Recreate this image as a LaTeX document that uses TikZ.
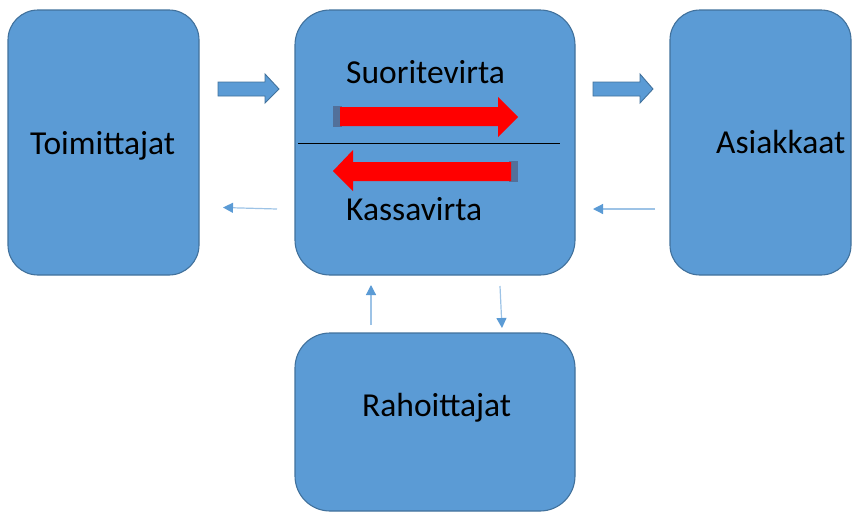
\documentclass[tikz,border=0pt]{standalone}
\usepackage{fontspec}
\setmainfont{Carlito}
\usetikzlibrary{arrows.meta}
\definecolor{boxblue}{HTML}{5B9BD5}
\definecolor{boxedge}{HTML}{41719C}
\definecolor{thinblue}{HTML}{9DC3E6}
\definecolor{capgray}{HTML}{52709A}
\tikzset{
  bigbox/.style={draw=boxedge, fill=boxblue, line width=1.1pt, rounded corners=30pt,
                 inner sep=0pt, outer sep=0pt, anchor=north west},
  lbl/.style={inner sep=0pt, anchor=base west, font=\fontsize{33.5}{40}\selectfont, text=black},
  blockarrow/.style={draw=boxedge, fill=boxblue, line width=0.9pt, line join=miter},
  redarrow/.style={fill=red, draw=none},
  thinarrow/.style={draw=thinblue, line width=1.2pt,
     -{Triangle[length=10pt,width=10pt,fill=boxblue,color=boxblue]}}
}
\begin{document}
\begin{tikzpicture}[x=1pt,y=-1pt]
\useasboundingbox (0,0) rectangle (852,512);
% boxes
\node[bigbox, minimum width=191pt, minimum height=265pt] (toim) at (8,10) {};
\node[bigbox, minimum width=280pt, minimum height=265pt, rounded corners=35pt] (center) at (295,10) {};
\node[bigbox, minimum width=181pt, minimum height=265pt] (asia) at (670,10) {};
\node[bigbox, minimum width=280pt, minimum height=178pt, rounded corners=35pt] (raho) at (295,333) {};
% labels
\node[lbl] (ttoim) at (30,154) {Toimittajat};
\node[lbl] (tasia) at (716,153) {Asiakkaat};
\node[lbl] (tsuor) at (346,83) {Suoritevirta};
\node[lbl] (tkass) at (346,220) {Kassavirta};
\node[lbl] (traho) at (362,416) {Rahoittajat};
% divider line
\draw[black, line width=0.8pt] (298,143) -- (560,143);
% block arrows
\draw[blockarrow] (218,82) -- (265,82) -- (265,74) -- (279,89) -- (265,103) -- (265,96) -- (218,96) -- cycle;
\draw[blockarrow] (593,82) -- (640,82) -- (640,74) -- (653,89) -- (640,103) -- (640,96) -- (593,96) -- cycle;
% red arrows
\fill[capgray] (333,106) rectangle (342,127);
\fill[redarrow] (340,107) -- (498,107) -- (498,97) -- (518,117) -- (498,137) -- (498,126) -- (340,126) -- cycle;
\fill[capgray] (509,161) rectangle (518,182);
\fill[redarrow] (511,162) -- (353,162) -- (353,150) -- (333,171) -- (353,191) -- (353,181) -- (511,181) -- cycle;
% thin arrows
\coordinate (a1s) at (277,209); \coordinate (a1e) at (223,207.5);
\coordinate (a2s) at (655,209); \coordinate (a2e) at (593,209);
\coordinate (a3s) at (371,325); \coordinate (a3e) at (371,285);
\coordinate (a4s) at (500,286); \coordinate (a4e) at (502,328);
\draw[thinarrow] (a1s) -- (a1e);
\draw[thinarrow] (a2s) -- (a2e);
\draw[thinarrow] (a3s) -- (a3e);
\draw[thinarrow] (a4s) -- (a4e);
\end{tikzpicture}
\end{document}
